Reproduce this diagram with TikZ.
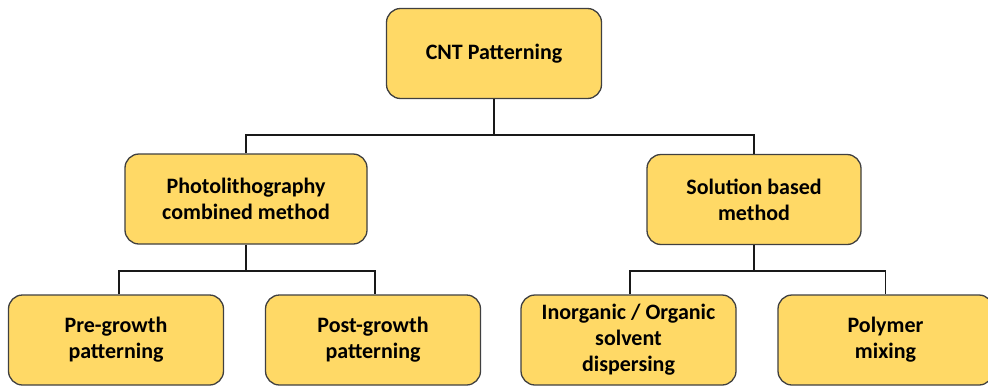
\documentclass[tikz,border=0pt]{standalone}
\usepackage{fontspec}
\setmainfont{Carlito}
\definecolor{boxfill}{HTML}{FFD966}
\definecolor{boxline}{HTML}{404040}
\begin{document}
\begin{tikzpicture}[x=1pt,y=-1pt,
  box/.style={draw=boxline, fill=boxfill, line width=1.3pt, rounded corners=14pt,
    minimum width=215pt, minimum height=90pt, align=center,
    font=\fontsize{22}{26}\selectfont\bfseries, inner sep=2pt},
  link/.style={draw=black!90, line width=1.3pt}]
\clip (0,0) rectangle (988,386);
\useasboundingbox (0,0) rectangle (988,386);
\fill[white] (0,0) rectangle (988,386);
\node[box] (top) at (494,53.5) {CNT Patterning};
\node[box, minimum width=242pt] (photo) at (246,199) {Photolithography\\combined method};
\node[box, minimum width=214pt] (sol) at (754,199.5) {Solution based\\method};
\node[box] (pre) at (116,340) {Pre-growth\\patterning};
\node[box] (post) at (373,340) {Post-growth\\patterning};
\node[box] (inorg) at (628.5,340) {Inorganic / Organic\\solvent\\dispersing};
\node[box] (poly) at (885.5,340) {Polymer\\mixing};
\coordinate (t1) at (494,135);
\coordinate (l1) at (246,271);
\coordinate (r1) at (754,271);
\draw[link] (top.south) -- (t1);
\draw[link] (photo.north) |- (t1) -| (sol.north);
\draw[link] (photo.south) -- (l1);
\draw[link] ([xshift=3pt]pre.north) |- (l1) -| ([xshift=2pt]post.north);
\draw[link] (sol.south) -- (r1);
\draw[link] ([xshift=1.5pt]inorg.north) |- (r1) -| (poly.north);
\end{tikzpicture}
\end{document}
